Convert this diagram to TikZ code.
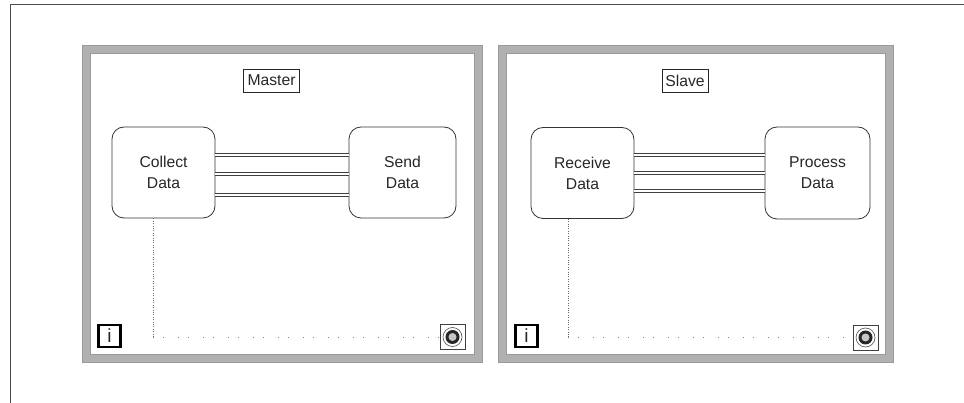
\documentclass[tikz,border=0pt]{standalone}
\usepackage{fontspec}
\setmainfont{Liberation Sans}
\begin{document}
\begin{tikzpicture}[x=1pt,y=-1pt,
  every node/.style={font=\fontsize{15.7}{21}\selectfont, text=black!85},
  panel/.style={draw=gray!62, line width=8pt, minimum width=392pt, minimum height=309pt, inner sep=0pt},
  vibox/.style={draw=black!80, line width=0.8pt, rounded corners=12pt, align=center, inner sep=0pt},
  tag/.style={draw=black!85, line width=0.8pt, inner sep=0pt, minimum height=23pt},
  wire/.style={draw=black!75, line width=0.7pt, double=white, double distance=2.2pt},
  condwire/.style={draw=black!60, line width=0.8pt, dash pattern=on 0.8pt off 1.6pt},
  sparsewire/.style={draw=black!50, line width=0.8pt, dash pattern=on 1pt off 9pt on 1pt off 14pt},
  infobox/.style={draw=black, line width=2.4pt, minimum size=22pt, inner sep=0pt, font=\fontsize{19}{19}\selectfont},
  stopbox/.style={draw=black!75, line width=0.8pt, minimum size=25pt, inner sep=0pt}
]
\useasboundingbox (0,0) rectangle (964,403);

% page frame
\draw[black!70, line width=1pt] (964,5) -- (10,5) -- (10,403);

% the two block-diagram panels
\node[panel] (master) at (282,203.5) {};
\node[panel, minimum width=387pt] (slave) at (695.5,203.5) {};
\foreach \p in {master, slave}{
  \draw[gray!80, line width=0.5pt] (\p.north west) rectangle (\p.south east);
  \draw[gray!80, line width=0.5pt] ([shift={(8,8)}]\p.north west) rectangle ([shift={(-8,-8)}]\p.south east);
}

% labels
\node[tag, minimum width=56pt] (mlabel) at (271.5,80.5) {Master};
\node[tag, minimum width=46pt] (slabel) at (685,80.5) {Slave};

% master side
\node[vibox, minimum width=103pt, minimum height=91pt] (collect) at (163.5,172.5) {Collect\\Data};
\node[vibox, minimum width=107pt, minimum height=91pt] (send) at (402.5,172.5) {Send\\Data};
\foreach \s in {17.5,-1.5,-22.5}
  \draw[wire] ([yshift=\s pt]collect.east) -- ([yshift=\s pt]send.west);

% slave side
\node[vibox, minimum width=103pt, minimum height=91pt] (receive) at (582.5,173) {Receive\\Data};
\node[vibox, minimum width=105pt, minimum height=92pt] (process) at (817.5,173) {Process\\Data};
\foreach \s in {18,0,-18}
  \draw[wire] ([yshift=\s pt]receive.east) -- ([yshift=\s pt]process.west);

% iteration and stop terminals
\node[infobox] (minfo) at (109.5,336) {i};
\node[infobox] (sinfo) at (526.5,336) {i};
\node[stopbox] (mstop) at (452.5,337) {};
\node[stopbox] (sstop) at (865.5,337.5) {};
\foreach \t in {mstop, sstop}{
  \draw[black!70, line width=0.6pt] (\t.center) circle (9.5pt);
  \fill[black!85] (\t.center) circle (7pt);
  \fill[gray!45] (\t.center) circle (4pt);
}

% condition wires to the stop terminals
\coordinate (mturn) at (153,337);
\draw[condwire] ([xshift=-10.5pt]collect.south) -- (mturn);
\draw[sparsewire] (mturn) -- (mstop.west);
\coordinate (sturn) at (568,337.5);
\draw[condwire] ([xshift=-14.5pt]receive.south) -- (sturn);
\draw[sparsewire] (sturn) -- (sstop.west);
\end{tikzpicture}
\end{document}
